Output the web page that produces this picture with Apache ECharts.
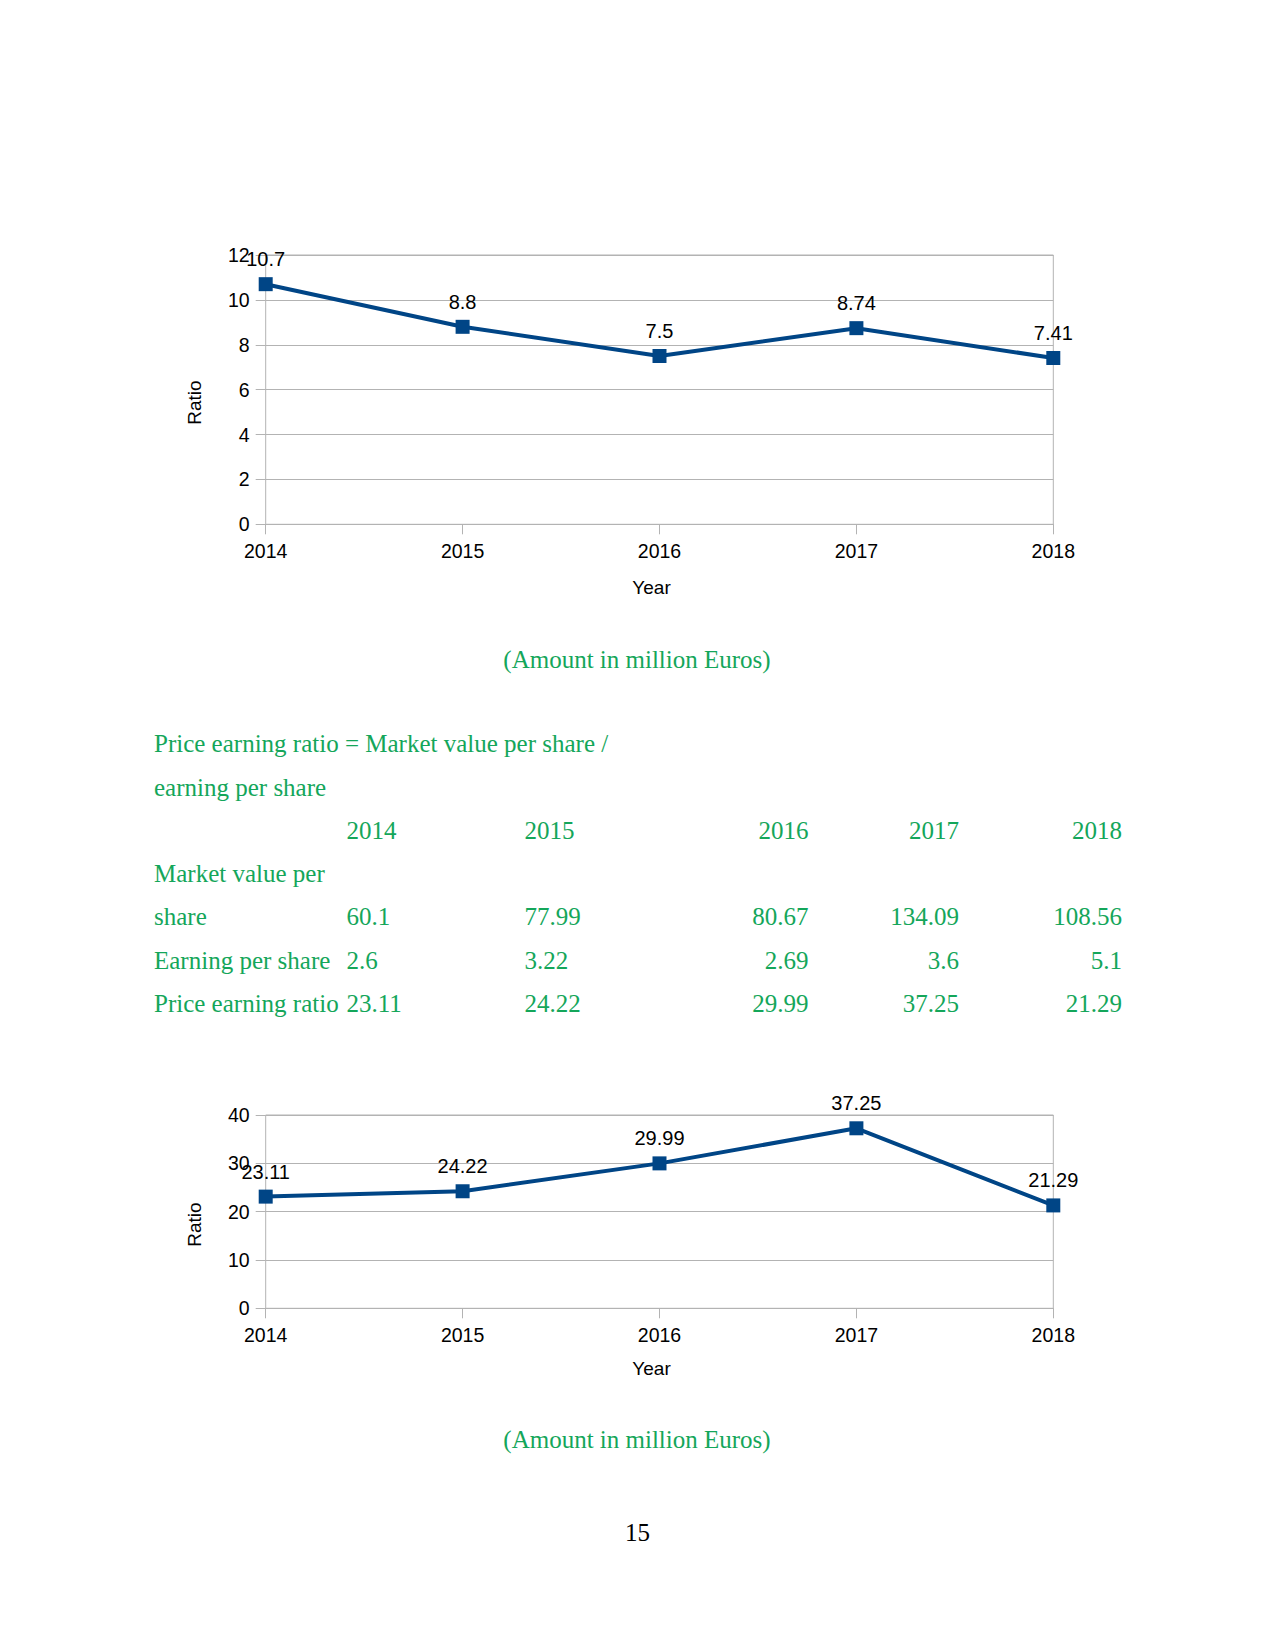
<!DOCTYPE html>
<html>
<head>
<meta charset="utf-8">
<script src="https://cdn.jsdelivr.net/npm/echarts@6/dist/echarts.min.js"></script>
<style>
html,body{margin:0;padding:0;background:#fff;}
#c{width:1275px;height:1651px;}
</style>
</head>
<body>
<div id="c"></div>
<script>
// ---- data ----
var years = ['2014', '2015', '2016', '2017', '2018'];
var ratioChart1 = [10.7, 8.8, 7.5, 8.74, 7.41];
var marketValuePerShare = [60.1, 77.99, 80.67, 134.09, 108.56];
var earningPerShare = [2.6, 3.22, 2.69, 3.6, 5.1];
var priceEarningRatio = [23.11, 24.22, 29.99, 37.25, 21.29];
var yTicks1 = {min: 0, max: 12, interval: 2};
var yTicks2 = {min: 0, max: 40, interval: 10};

var axisLabelFont = 'Liberation Sans';
var docFont = '"Liberation Serif"';
var green = '#14a65a';
var gridColor = '#b3b3b3';
var lineColor = '#004586';

var chart = echarts.init(document.getElementById('c'), null, {renderer: 'svg', width: 1275, height: 1651});

function xAx(gridIndex, nameGap) {
  return {
    gridIndex: gridIndex, type: 'category', data: years, boundaryGap: false,
    axisLine: {show: true, lineStyle: {color: gridColor, width: 1}},
    axisTick: {show: true, length: 10, inside: false, lineStyle: {color: gridColor}},
    axisLabel: {color: '#000', fontFamily: axisLabelFont, fontSize: 19.5, margin: 17},
    splitLine: {show: false},
    name: 'Year', nameLocation: 'middle', nameGap: nameGap,
    nameTextStyle: {color: '#000', fontFamily: axisLabelFont, fontSize: 19, padding: [0, 16, 0, 0]}
  };
}
function yAx(gridIndex, t) {
  return {
    gridIndex: gridIndex, type: 'value', min: t.min, max: t.max, interval: t.interval,
    axisLine: {show: false},
    axisTick: {show: true, length: 10, lineStyle: {color: gridColor}},
    axisLabel: {color: '#000', fontFamily: axisLabelFont, fontSize: 19.5, margin: 16},
    splitLine: {show: true, lineStyle: {color: gridColor, width: 1}},
    name: 'Ratio', nameLocation: 'middle', nameGap: 62, nameRotate: 90,
    nameTextStyle: {color: '#000', fontFamily: axisLabelFont, fontSize: 19, padding: [0, 26, 0, 0]}
  };
}
function lineSeries(idx, data) {
  return {
    type: 'line', xAxisIndex: idx, yAxisIndex: idx, data: data,
    symbol: 'rect', symbolSize: 14, showAllSymbol: true,
    lineStyle: {color: lineColor, width: 4},
    itemStyle: {color: lineColor},
    label: {show: true, position: 'top', distance: 8, color: '#000', fontFamily: axisLabelFont, fontSize: 20},
    animation: false
  };
}

// ---- document text ----
var graphics = [];
function txt(s, x, y, align, color) {
  graphics.push({
    type: 'text', silent: true,
    style: {text: s, x: x, y: y, fill: color || green, font: '25px ' + docFont,
      textAlign: align || 'left', textVerticalAlign: 'middle'}
  });
}
txt('(Amount in million Euros)', 637, 659, 'center');
txt('Price earning ratio = Market value per share /', 154, 743);
txt('earning per share', 154, 787);
var colX = [346.5, 524.5, 808.5, 959, 1122];
var colAlign = ['left', 'left', 'right', 'right', 'right'];
var rowY = {header: 830, mv1: 873, mv2: 916.5, eps: 960, pe: 1003};
txt('Market value per', 154, rowY.mv1);
txt('share', 154, rowY.mv2);
txt('Earning per share', 154, rowY.eps);
txt('Price earning ratio', 154, rowY.pe);
for (var i = 0; i < years.length; i++) {
  txt(years[i], colX[i], rowY.header, colAlign[i]);
  txt(String(marketValuePerShare[i]), colX[i], rowY.mv2, colAlign[i]);
  txt(String(earningPerShare[i]), colX[i], rowY.eps, colAlign[i]);
  txt(String(priceEarningRatio[i]), colX[i], rowY.pe, colAlign[i]);
}
txt('(Amount in million Euros)', 637, 1439, 'center');
txt('15', 637.5, 1532, 'center', '#000');

chart.setOption({
  animation: false,
  backgroundColor: '#fff',
  grid: [
    {left: 265.7, right: 221.7, top: 255, height: 269.3, show: true, borderColor: gridColor, borderWidth: 1, containLabel: false},
    {left: 265.7, right: 221.7, top: 1115, height: 193.3, show: true, borderColor: gridColor, borderWidth: 1, containLabel: false}
  ],
  xAxis: [xAx(0, 54), xAx(1, 51)],
  yAxis: [yAx(0, yTicks1), yAx(1, yTicks2)],
  series: [lineSeries(0, ratioChart1), lineSeries(1, priceEarningRatio)],
  graphic: graphics
});
</script>
</body>
</html>
